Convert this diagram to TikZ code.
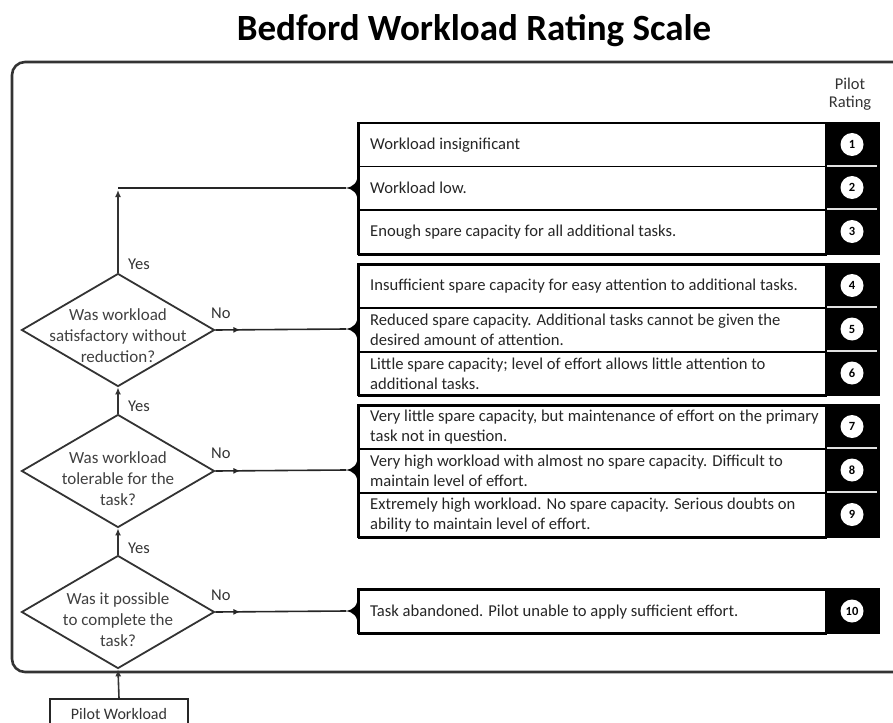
\documentclass[tikz,border=0pt]{standalone}
\usepackage{fontspec}
\setmainfont{Carlito}
\usetikzlibrary{shapes.geometric,arrows.meta,decorations.markings}
\begin{document}
\begin{tikzpicture}[x=1pt,y=-1pt,
  diam/.style={diamond, draw=black!80, line width=1.8pt, minimum width=193pt, minimum height=113pt, inner sep=0pt},
  dtext/.style={align=center, font=\fontsize{17}{21}\selectfont, text=black!75, inner sep=0pt},
  rowbox/.style={draw=black, line width=1.5pt, minimum width=467pt, inner sep=0pt, anchor=north west},
  rowtext/.style={align=left, anchor=west, font=\fontsize{16.6}{20.5}\selectfont, text=black!85, inner sep=0pt},
  num/.style={circle, fill=white, minimum size=23pt, inner sep=0pt, font=\fontsize{12.5}{12.5}\selectfont\bfseries},
  lbl/.style={font=\fontsize{16.5}{18}\selectfont, text=black!80, inner sep=0pt},
  arr/.style={-{Latex[length=7pt,width=6pt]}, line width=1.6pt, draw=black!80},
  noline/.style={line width=1.6pt, draw=black!85, postaction={decorate},
    decoration={markings, mark=at position 25pt with {\arrow{Latex[length=7pt,width=6pt]}}}},
  colsep/.style={draw=black!12, line width=1.8pt},
  grp/.style={draw=black, line width=2.2pt},
  brk/.pic={\fill[black] (0,-17) .. controls (0,-5) and (-4,-1) .. (-13,0) .. controls (-4,1) and (0,5) .. (0,17) -- cycle;}
]
\useasboundingbox (0,0) rectangle (893,722);

% title
\node[font=\fontsize{37}{40}\selectfont\bfseries, inner sep=0pt] (title) at (474,31) {Bedford Workload Rating Scale};

% frame
\draw[line width=2.6pt, draw=black!80, rounded corners=13pt] (893,62) -- (12,62) -- (12,672) -- (893,672);

% pilot rating heading
\node[align=center, font=\fontsize{16.5}{18}\selectfont, text=black!80, inner sep=0pt] (pr) at (850,94) {Pilot\\Rating};

% group 1
\node[rowbox, minimum height=43pt] (r1) at (358,123) {};
\node[rowbox, minimum height=43pt] (r2) at (358,166) {};
\node[rowbox, minimum height=45pt] (r3) at (358,209) {};
% group 2
\node[rowbox, minimum height=43pt] (r4) at (358,264) {};
\node[rowbox, minimum height=44pt] (r5) at (358,307) {};
\node[rowbox, minimum height=44pt] (r6) at (358,351) {};
% group 3
\node[rowbox, minimum height=43pt] (r7) at (358,405) {};
\node[rowbox, minimum height=44pt] (r8) at (358,448) {};
\node[rowbox, minimum height=45pt] (r9) at (358,492) {};
% group 4
\node[rowbox, minimum height=44pt] (r10) at (358,589) {};

% black rating columns
\fill[black] (825,123) rectangle (879,254);
\fill[black] (825,264) rectangle (879,395);
\fill[black] (825,405) rectangle (879,537);
\fill[black] (825,589) rectangle (879,633);
\draw[colsep] (827,166) -- (877,166);
\draw[colsep] (827,209) -- (877,209);
\draw[colsep] (827,307) -- (877,307);
\draw[colsep] (827,351) -- (877,351);
\draw[colsep] (827,448) -- (877,448);
\draw[colsep] (827,492) -- (877,492);
\draw[grp] (358,123) rectangle (879,254);
\draw[grp] (358,264) rectangle (879,395);
\draw[grp] (358,405) rectangle (879,537);
\draw[grp] (358,589) rectangle (879,633);

% row texts
\node[rowtext] (t1) at ([xshift=12pt]r1.west) {Workload insignificant};
\node[rowtext] (t2) at ([xshift=12pt]r2.west) {Workload low.};
\node[rowtext] (t3) at ([xshift=12pt]r3.west) {Enough spare capacity for all additional tasks.};
\node[rowtext] (t4) at ([xshift=12pt]r4.west) {Insufficient spare capacity for easy attention to additional tasks.};
\node[rowtext] (t5) at ([xshift=12pt]r5.west) {Reduced spare capacity. Additional tasks cannot be given the\\desired amount of attention.};
\node[rowtext] (t6) at ([xshift=12pt]r6.west) {Little spare capacity; level of effort allows little attention to\\additional tasks.};
\node[rowtext] (t7) at ([xshift=12pt]r7.west) {Very little spare capacity, but maintenance of effort on the primary\\task not in question.};
\node[rowtext] (t8) at ([xshift=12pt]r8.west) {Very high workload with almost no spare capacity. Difficult to\\maintain level of effort.};
\node[rowtext] (t9) at ([xshift=12pt]r9.west) {Extremely high workload. No spare capacity. Serious doubts on\\ability to maintain level of effort.};
\node[rowtext] (t10) at ([xshift=12pt]r10.west) {Task abandoned. Pilot unable to apply sufficient effort.};

% rating numbers
\node[num] (n1) at (852,144.5) {1};
\node[num] (n2) at (852,187.5) {2};
\node[num] (n3) at (852,231.5) {3};
\node[num] (n4) at (852,285.5) {4};
\node[num] (n5) at (852,329) {5};
\node[num] (n6) at (852,373) {6};
\node[num] (n7) at (852,426.5) {7};
\node[num] (n8) at (852,470) {8};
\node[num] (n9) at (852,514.5) {9};
\node[num] (n10) at (852,611) {10};

% brackets
\pic at (358,188) {brk};
\pic at (358,329) {brk};
\pic at (358,470) {brk};
\pic at (358,611) {brk};
\coordinate (b1) at (346,188);
\coordinate (b2) at (346,329);
\coordinate (b3) at (346,470);
\coordinate (b4) at (346,611);

% diamonds
\node[diam] (d1) at (118,330) {};
\node[diam] (d2) at (118,471) {};
\node[diam] (d3) at (118,612) {};
\node[dtext] (q1) at (118,336) {Was workload\\satisfactory without\\reduction?};
\node[dtext] (q2) at (118,479) {Was workload\\tolerable for the\\task?};
\node[dtext] (q3) at (118,620) {Was it possible\\to complete the\\task?};

% pilot workload box
\node[draw=black!85, line width=1.8pt, minimum width=138pt, minimum height=30pt, inner sep=0pt,
  font=\fontsize{16}{18}\selectfont, text=black!80] (pw) at (119,714) {Pilot Workload};

% connectors
\coordinate (c1) at (118,188);
\draw[arr] (d1.north) -- ([yshift=-2pt]c1);
\draw[line width=1.6pt, draw=black!85] (c1) -- (b1);
\draw[noline] (d1.east) -- (b2);
\draw[noline] (d2.east) -- (b3);
\draw[noline] (d3.east) -- (b4);
\draw[arr] (d2.north) -- (d1.south);
\draw[arr] (d3.north) -- (d2.south);
\draw[arr] (pw.north) -- (d3.south);

% labels
\node[lbl, anchor=west] (y1) at (128,264) {Yes};
\node[lbl, anchor=west] (y2) at (128,406) {Yes};
\node[lbl, anchor=west] (y3) at (128,548) {Yes};
\node[lbl, anchor=west] (no1) at (211,313) {No};
\node[lbl, anchor=west] (no2) at (211,453) {No};
\node[lbl, anchor=west] (no3) at (211,595) {No};
\end{tikzpicture}
\end{document}
